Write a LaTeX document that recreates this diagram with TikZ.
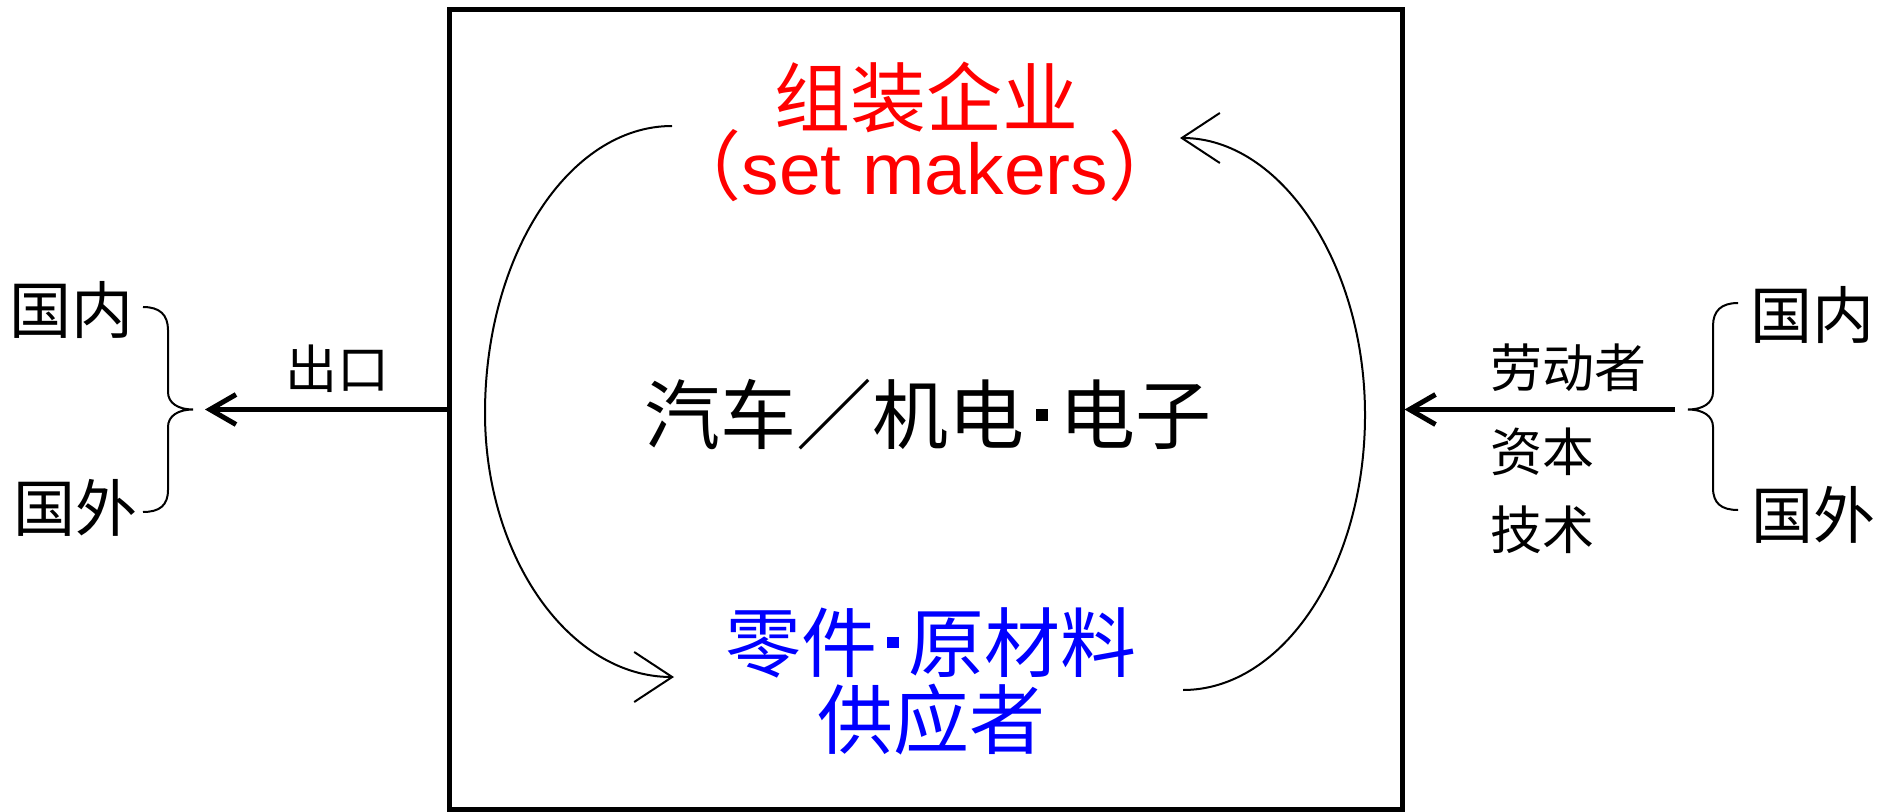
\documentclass[tikz,border=0pt]{standalone}
\usepackage{fontspec}
\setmainfont{Liberation Sans}
\newfontfamily\cjk{Noto Sans CJK SC}
\newfontfamily\latw[FakeStretch=1.04]{Liberation Sans}
\usetikzlibrary{arrows.meta}
\newcommand\sqdot[1]{\makebox[#1]{\rule[0.305em]{0.16em}{0.15em}}}
\begin{document}
\begin{tikzpicture}[x=0.5pt,y=-0.5pt,
  frame/.style={draw, line width=2.5pt, minimum width=476.5pt, minimum height=399.5pt, inner sep=0pt},
  bigarrow/.style={line width=2.5pt, -{Straight Barb[length=13pt,width=15pt]}},
  cyc/.style={line width=1pt, -{Straight Barb[length=19pt,width=25pt]}},
  bracepath/.style={line width=1pt},
  big/.style={inner sep=0pt, font=\cjk\fontsize{38}{38}\selectfont},
  side/.style={inner sep=0pt, font=\cjk\fontsize{31}{31}\selectfont},
  small/.style={inner sep=0pt, font=\cjk\fontsize{26}{26}\selectfont}]
\useasboundingbox (0,0) rectangle (1877,812);

% main box
\node[frame] (box) at (925.5,409.5) {};

% texts inside
\node[big, red] (asm) at (926,97) {组装企业};
\node[inner sep=0pt, red, anchor=base] (asmen) at (925,195)
  {{\cjk\fontsize{38}{38}\selectfont （}{\latw\fontsize{36}{36}\selectfont set makers}{\cjk\fontsize{38}{38}\selectfont ）}};
\node[big] (mid) at (928,415) {汽车／机电\sqdot{0.47em}电子};
\node[big, blue] (sup1) at (931,643) {零件\sqdot{0.42em}原材料};
\node[big, blue] (sup2) at (931,720) {供应者};

% cycle connectors
\coordinate (c1) at (672,126);
\coordinate (c2) at (674,677);
\coordinate (c3) at (1183,690);
\coordinate (c4) at (1180,138);
\draw[cyc] (c1) .. controls (569,126) and (485,255) .. (485,413)
                .. controls (485,558) and (570,677) .. (c2);
\draw[cyc] (c3) .. controls (1283,690) and (1365,567) .. (1365,415)
                .. controls (1365,263) and (1280,138) .. (c4);

% left side
\node[side] (ldom) at (72,310) {国内};
\node[side] (lfor) at (75,508) {国外};
\node[small] (exp) at (337,369) {出口};
\coordinate (lt) at (143,307);
\coordinate (lb) at (143,512);
\coordinate (ltip) at (193,409.5);
\coordinate (outL) at (205,409.5);
\draw[bracepath] (lt) .. controls (160,307) and (168,315) .. (168,330) -- (168,392)
  .. controls (168,403) and (178,409.5) .. (ltip)
  .. controls (178,409.5) and (168,416) .. (168,427) -- (168,490)
  .. controls (168,505) and (160,512) .. (lb);
\draw[bigarrow] (box.west) -- (outL);

% right side
\node[side] (rdom) at (1812,315) {国内};
\node[side] (rfor) at (1813,515) {国外};
\node[small, anchor=west] (lab) at (1490,368) {劳动者};
\node[small, anchor=west] (cap) at (1490,452) {资本};
\node[small, anchor=west] (tec) at (1490,530) {技术};
\coordinate (rt) at (1738,303);
\coordinate (rb) at (1738,510);
\coordinate (rtip) at (1688,409.5);
\coordinate (inR) at (1675,409.5);
\draw[bracepath] (rt) .. controls (1721,303) and (1713,311) .. (1713,326) -- (1713,392)
  .. controls (1713,403) and (1703,409.5) .. (rtip)
  .. controls (1703,409.5) and (1713,416) .. (1713,427) -- (1713,488)
  .. controls (1713,503) and (1721,510) .. (rb);
\draw[bigarrow] (inR) -- (box.east);
\end{tikzpicture}
\end{document}
